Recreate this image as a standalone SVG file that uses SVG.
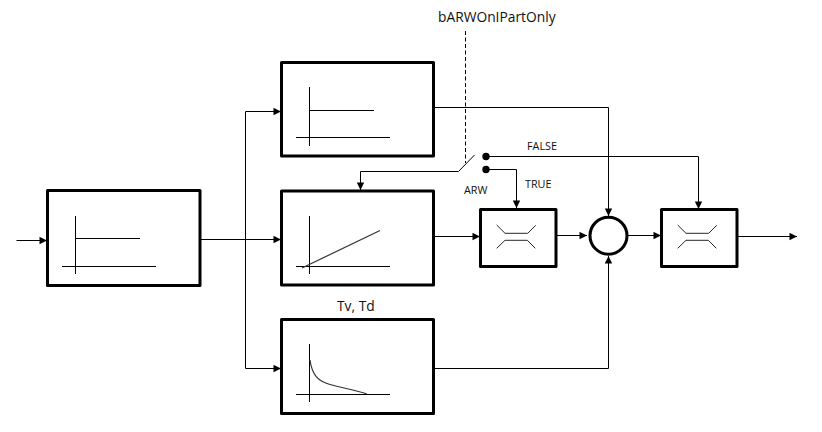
<svg xmlns="http://www.w3.org/2000/svg" width="822" height="432" viewBox="0 0 822 432">
<style>
.box{fill:#fff;stroke:#000;stroke-width:3;stroke-linejoin:round}
.thin{fill:none;stroke:#000;stroke-width:1}
.curve{fill:none;stroke:#333;stroke-width:1.2}
.wire{fill:none;stroke:#000;stroke-width:1}
.arr{fill:none;stroke:#000;stroke-width:1;marker-end:url(#ah)}
text{font-family:"Open Sans","Noto Sans","Liberation Sans",sans-serif;fill:#111}
.big{font-size:13.8px}
.small{font-size:10.8px}
</style>
<defs>
<marker id="ah" markerUnits="userSpaceOnUse" markerWidth="9" markerHeight="9" refX="8" refY="4" orient="auto"><path d="M0.500 0.300L8 4L0.500 7.700Z" fill="#000"/></marker>
<path id="lim" d="M496.700 225L505 233.300H527.700L535.700 225.300M496.700 248.300L505 240.300H527.300L535.300 248.300" class="thin" stroke-opacity=".85"/>
</defs>
<rect width="822" height="432" fill="#fff"/>
<g id="connectors">
<path class="arr" d="M16.500 240.500H47"/>
<path class="wire" d="M201 239.500H245.500"/>
<path class="arr" d="M245.500 239.500H281"/>
<path class="arr" d="M245.500 239.500V111.500H281"/>
<path class="arr" d="M245.500 239.500V368.500H281"/>
<path class="arr" d="M434 107.500H608.500V216"/>
<path class="arr" d="M434 236.500H480"/>
<path class="arr" d="M556 235.500H587"/>
<path class="arr" d="M628 235.500H661"/>
<path class="arr" d="M738 236.500H797"/>
<path class="arr" d="M434 368.500H608.500V256"/>
<path class="arr" d="M486 156.500H698.500V209"/>
<path class="arr" d="M486 169.500H516.500V208"/>
<path class="arr" d="M458.500 171.500H360.500V190"/>
<path class="wire" d="M458.500 171.500L474.500 155"/>
<path class="wire" stroke-dasharray="4 2.500" d="M465.500 31V163"/>
<circle cx="486" cy="156.500" r="3.700" fill="#000"/>
<circle cx="486" cy="169.500" r="3.700" fill="#000"/>
</g>
<g id="node-input">
<rect class="box" x="47.500" y="190.500" width="152.500" height="95"/>
<path class="thin" d="M75.500 216V274M62 266.500H156M76 238.500H140"/>
</g>
<g id="node-p">
<rect class="box" x="281.500" y="62.500" width="152" height="93.500"/>
<path class="thin" d="M309.500 87V146M296 137.500H390M310 110.500H374"/>
</g>
<g id="node-i">
<rect class="box" x="281.500" y="191" width="152" height="94"/>
<path class="thin" d="M309.500 216V274M296 266.500H390"/>
<path class="curve" d="M302 268L380 230.500"/>
</g>
<g id="node-d">
<rect class="box" x="281.500" y="319.500" width="152" height="94"/>
<path class="thin" d="M309.500 344V402M296 394.500H390"/>
<path class="curve" d="M310 360C312 375 318 381 330 384.500C342 388 355 390 367 394"/>
</g>
<g id="node-limit1">
<rect class="box" x="480.500" y="209.500" width="75.500" height="57"/>
<use href="#lim"/>
</g>
<g id="node-sum">
<circle cx="608.500" cy="235.700" r="18.500" fill="#fff" stroke="#000" stroke-width="3"/>
</g>
<g id="node-limit2">
<rect class="box" x="661.500" y="209.500" width="75.500" height="57"/>
<use href="#lim" x="181"/>
</g>
<g id="labels">
<text class="big" x="438" y="22">bARWOnIPartOnly</text>
<text class="small" x="527" y="150">FALSE</text>
<text class="small" x="525" y="188">TRUE</text>
<text class="small" x="464" y="194">ARW</text>
<text class="big" x="337" y="311">Tv, Td</text>
</g>
</svg>
